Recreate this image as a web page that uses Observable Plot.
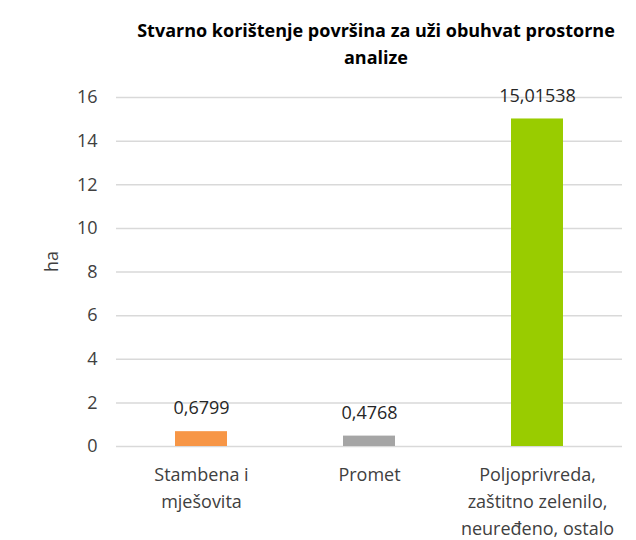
<!DOCTYPE html>
<html>
<head>
<meta charset="utf-8">
<script src="https://cdn.jsdelivr.net/npm/d3@7"></script>
<script src="https://cdn.jsdelivr.net/npm/@observablehq/plot@0.6"></script>
<style>
  body { margin: 0; background: #fff; font-family: "Open Sans", sans-serif; }
  #wrap { width: 636px; }
  #title { height: 80px; box-sizing: border-box; padding-top: 17px; padding-left: 116px; text-align: center;
           font-weight: bold; font-size: 18px; line-height: 27px; color: #000; white-space: nowrap; }
</style>
</head>
<body>
<div id="wrap">
  <div id="title">Stvarno korištenje površina za uži obuhvat prostorne<br>analize</div>
  <div id="chart"></div>
</div>
<script>
const categories = ["Stambena i\nmješovita", "Promet", "Poljoprivreda,\nzaštitno zelenilo,\nneuređeno, ostalo"];
const values = [0.6799, 0.4768, 15.01538];
const valueLabels = ["0,6799", "0,4768", "15,01538"];
const colors = ["#F79646", "#A5A5A5", "#99CC00"];
const yTicks = [0, 2, 4, 6, 8, 10, 12, 14, 16];

const data = categories.map((c, i) => ({cat: c, value: values[i], label: valueLabels[i], color: colors[i]}));

const chart = Plot.plot({
  width: 636,
  height: 460,
  marginTop: 17,
  marginBottom: 94,
  marginLeft: 116,
  marginRight: 14,
  style: {fontFamily: "Open Sans, sans-serif", fontSize: "18px", color: "#404040", background: "#fff", overflow: "visible"},
  x: {domain: categories, padding: 0},
  y: {domain: [0, 16], ticks: yTicks},
  marks: [
    Plot.gridY(yTicks, {stroke: "#D9D9D9", strokeOpacity: 1, strokeWidth: 1.5}),
    Plot.barY(data, {x: "cat", y: "value", fill: "color", insetLeft: 58, insetRight: 58}),
    Plot.text(data, {x: "cat", y: "value", text: "label", dy: -23, fill: "#262626", fontSize: 18}),
    Plot.axisY(yTicks, {tickSize: 0, tickPadding: 19, label: null, fill: "#404040", fontSize: 18}),
    Plot.text(["ha"], {frameAnchor: "left", dx: -64, rotate: -90, fill: "#404040", fontSize: 18}),
    Plot.axisX({tickSize: 0, tickPadding: 16, label: null, lineHeight: 1.48, fill: "#404040", fontSize: 18})
  ]
});
document.getElementById("chart").appendChild(chart);
</script>
</body>
</html>
